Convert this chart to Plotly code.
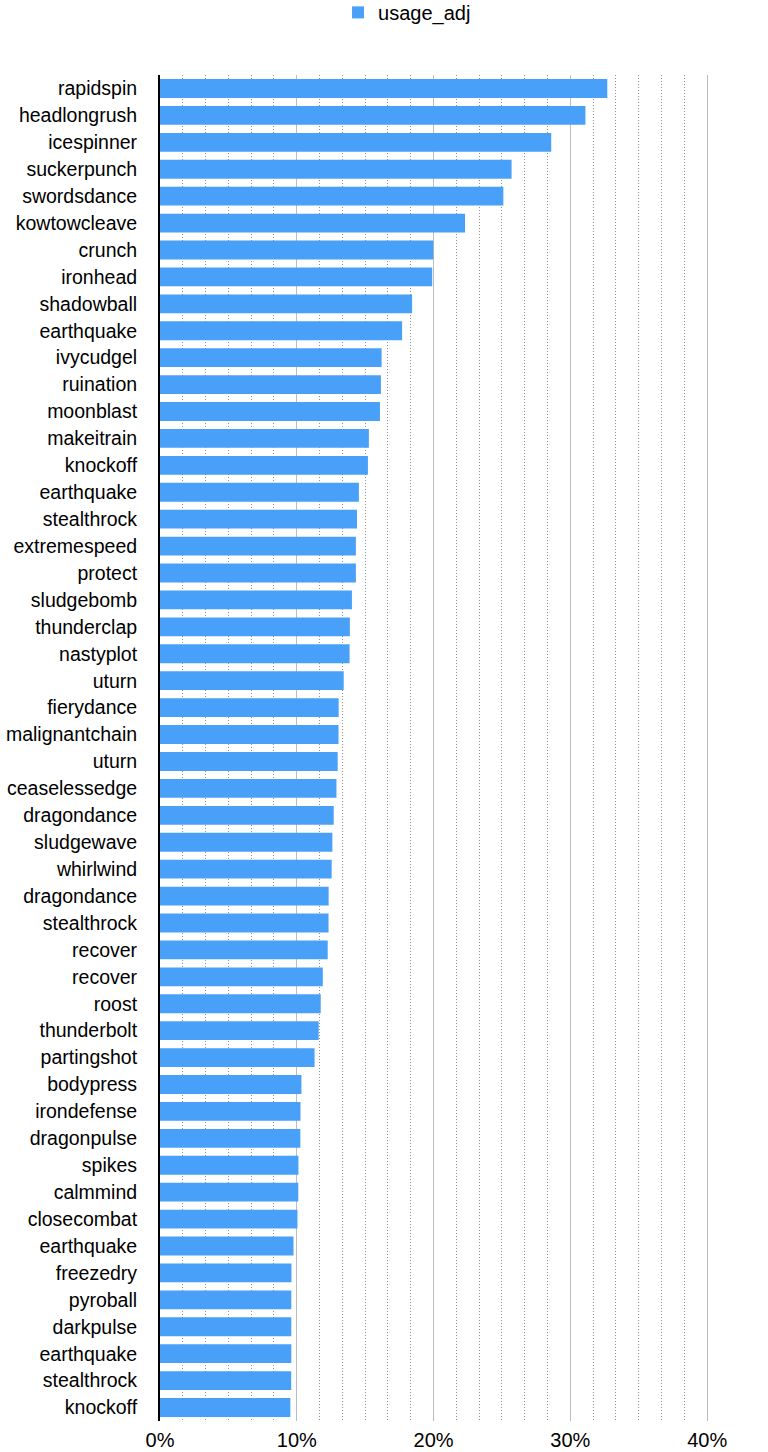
import plotly.graph_objects as go

# move names, top to bottom (duplicates are separate rows)
moves = [
    "rapidspin", "headlongrush", "icespinner", "suckerpunch", "swordsdance",
    "kowtowcleave", "crunch", "ironhead", "shadowball", "earthquake",
    "ivycudgel", "ruination", "moonblast", "makeitrain", "knockoff",
    "earthquake", "stealthrock", "extremespeed", "protect", "sludgebomb",
    "thunderclap", "nastyplot", "uturn", "fierydance", "malignantchain",
    "uturn", "ceaselessedge", "dragondance", "sludgewave", "whirlwind",
    "dragondance", "stealthrock", "recover", "recover", "roost",
    "thunderbolt", "partingshot", "bodypress", "irondefense", "dragonpulse",
    "spikes", "calmmind", "closecombat", "earthquake", "freezedry",
    "pyroball", "darkpulse", "earthquake", "stealthrock", "knockoff",
]

usage_adj = [
    0.327, 0.311, 0.286, 0.257, 0.251,
    0.223, 0.1998, 0.199, 0.1843, 0.177,
    0.162, 0.1615, 0.1608, 0.1527, 0.152,
    0.1454, 0.144, 0.1432, 0.1432, 0.1403,
    0.1388, 0.1386, 0.1343, 0.1306, 0.1305,
    0.1299, 0.129, 0.127, 0.126, 0.1255,
    0.1233, 0.1232, 0.1226, 0.119, 0.1175,
    0.116, 0.113, 0.1034, 0.1027, 0.1026,
    0.1012, 0.1011, 0.1005, 0.0976, 0.0961,
    0.096, 0.096, 0.096, 0.0959, 0.0953,
]

rows = list(range(len(moves)))

fig = go.Figure()
fig.add_trace(go.Bar(
    x=usage_adj,
    y=rows,
    orientation="h",
    name="usage_adj",
    width=0.7,
    marker=dict(color="#48a0f8", line=dict(width=0)),
    showlegend=True,
))

fig.update_layout(
    width=768,
    height=1452,
    margin=dict(l=160, r=54, t=75, b=31, autoexpand=False),
    paper_bgcolor="white",
    plot_bgcolor="white",
    font=dict(family="Helvetica, Arial, Liberation Sans", size=20, color="#000000"),
    legend=dict(
        orientation="h",
        x=0.53, xref="container", xanchor="center",
        y=1.061, yanchor="top",
        font=dict(size=20),
    ),
    bargap=0.3,
)

fig.update_xaxes(
    range=[0, 0.405],
    tickformat=".0%",
    dtick=0.1,
    tick0=0,
    showgrid=True,
    gridcolor="#bdbdbd",
    gridwidth=1,
    minor=dict(dtick=0.1 / 6, tick0=0, showgrid=True, gridcolor="#8f8f8f",
               griddash="1px,2px", gridwidth=1),
    zeroline=False,
    showline=False,
    ticks="",
    ticklabelstandoff=5,
    automargin=False,
    tickfont=dict(size=20),
)

fig.update_yaxes(
    tickmode="array",
    tickvals=rows,
    ticktext=moves,
    range=[len(moves) - 0.5, -0.5],
    showgrid=False,
    zeroline=False,
    showline=True,
    linecolor="#000000",
    linewidth=2,
    ticks="",
    ticklabelstandoff=17,
    automargin=False,
    tickfont=dict(size=19.5),
)

# drop the default 8px page margin so the figure sits at the window corner
fig.write_html("out.html", config={"displayModeBar": False},
               post_script="document.body.style.margin = '0';")
